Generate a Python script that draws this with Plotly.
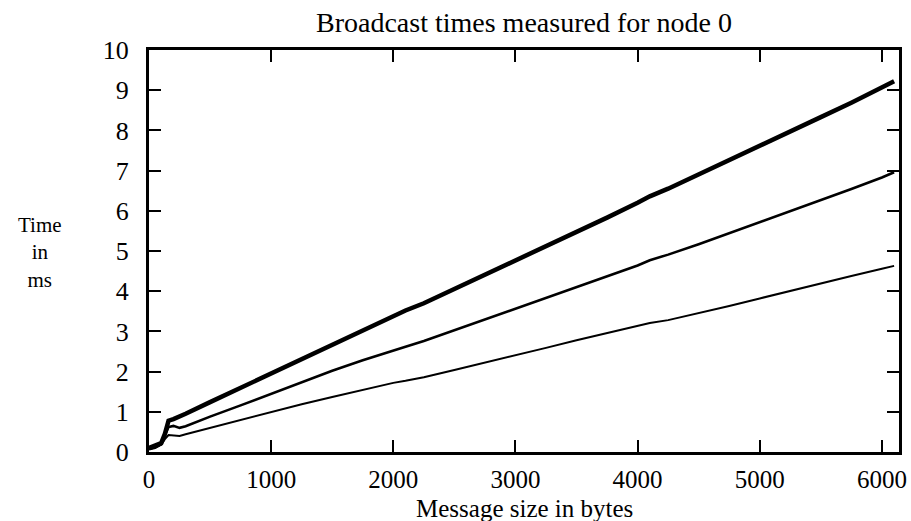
import plotly.graph_objects as go

# Message size in bytes
sizes = [0, 50, 100, 130, 160, 200, 250, 300, 500, 750, 1000, 1250, 1500, 1750,
         2000, 2100, 2250, 2500, 2750, 3000, 3250, 3500, 3750, 4000, 4100, 4250,
         4500, 4750, 5000, 5250, 5500, 5750, 6000, 6100]

# Broadcast times in ms (three measured curves)
time_top = [0.10, 0.15, 0.22, 0.45, 0.78, 0.82, 0.88, 0.95, 1.24, 1.60, 1.95, 2.31,
            2.66, 3.02, 3.38, 3.52, 3.70, 4.05, 4.40, 4.76, 5.12, 5.47, 5.83, 6.20,
            6.36, 6.55, 6.90, 7.26, 7.62, 7.97, 8.33, 8.69, 9.05, 9.22]
time_mid = [0.08, 0.12, 0.20, 0.42, 0.62, 0.65, 0.60, 0.64, 0.88, 1.16, 1.45, 1.74,
            2.02, 2.28, 2.53, 2.62, 2.76, 3.03, 3.30, 3.57, 3.84, 4.11, 4.38, 4.64,
            4.77, 4.91, 5.17, 5.44, 5.71, 5.98, 6.26, 6.54, 6.83, 6.96]
time_low = [0.06, 0.10, 0.18, 0.32, 0.42, 0.41, 0.40, 0.44, 0.60, 0.80, 1.00, 1.19,
            1.37, 1.55, 1.72, 1.77, 1.86, 2.04, 2.22, 2.41, 2.59, 2.78, 2.96, 3.14,
            3.21, 3.28, 3.45, 3.63, 3.82, 4.01, 4.19, 4.38, 4.56, 4.63]

x_ticks = [0, 1000, 2000, 3000, 4000, 5000, 6000]
y_ticks = [0, 1, 2, 3, 4, 5, 6, 7, 8, 9, 10]

title_text = "Broadcast times measured for node 0"
x_title = "Message size in bytes"
y_title_lines = ["Time", "in", "ms"]

FONT = "Liberation Serif"

fig = go.Figure()
for ys, w in [(time_top, 4.5), (time_mid, 2.6), (time_low, 2.0)]:
    fig.add_trace(go.Scatter(x=sizes, y=ys, mode="lines",
                             line=dict(color="black", width=w),
                             showlegend=False, hoverinfo="skip"))

axis_common = dict(showline=True, linecolor="black", linewidth=3, mirror="ticks",
                   ticks="inside", ticklen=12, tickwidth=2, tickcolor="black",
                   showgrid=False, zeroline=False, automargin=False)

fig.update_xaxes(range=[0, 6140], tickvals=x_ticks,
                 ticktext=[str(v) for v in x_ticks], ticklabelstandoff=3,
                 tickfont=dict(family=FONT, size=25, color="black"),
                 **axis_common)
fig.update_yaxes(range=[0, 10], tickvals=y_ticks,
                 ticktext=[str(v) for v in y_ticks], ticklabelstandoff=12,
                 tickfont=dict(family=FONT, size=26, color="black"),
                 **axis_common)

W, H = 750, 402  # plot area in pixels
annotations = [
    dict(text=title_text, xref="paper", yref="paper", x=0.5, y=1 + 28 / H,
         xanchor="center", yanchor="middle", showarrow=False,
         font=dict(family=FONT, size=28, color="black")),
    dict(text=x_title, xref="paper", yref="paper", x=0.5, y=-56 / H,
         xanchor="center", yanchor="middle", showarrow=False,
         font=dict(family=FONT, size=25, color="black")),
    dict(text="<br>".join(y_title_lines), xref="paper", yref="paper",
         x=(40 - 149) / W, y=(452 - 252) / H, xanchor="center", yanchor="middle",
         showarrow=False, align="center",
         font=dict(family=FONT, size=21, color="black")),
]

fig.update_layout(width=911, height=521, autosize=False,
                  margin=dict(l=149, r=12, t=50, b=69),
                  paper_bgcolor="white", plot_bgcolor="white",
                  annotations=annotations)

fig.write_html("out.html")
